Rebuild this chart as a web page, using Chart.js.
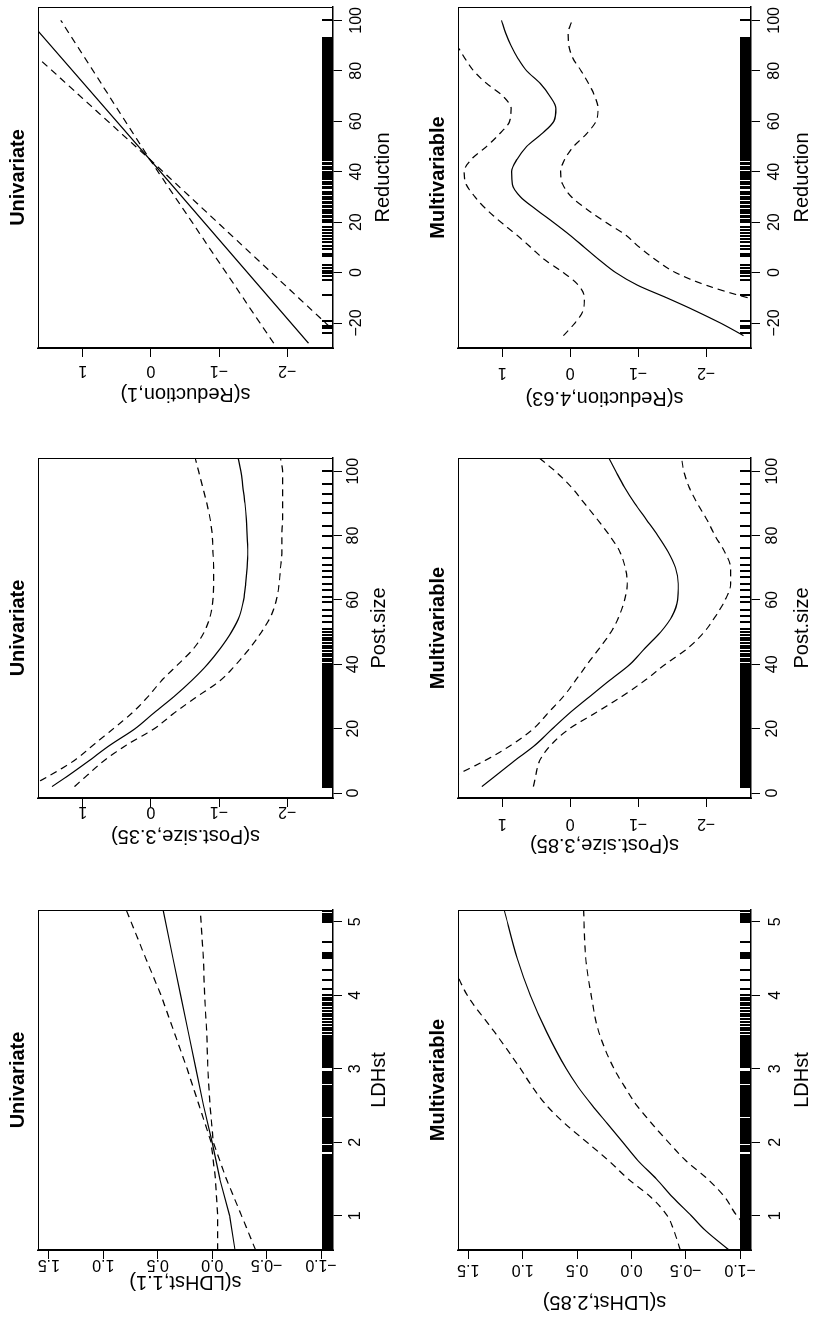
<!DOCTYPE html>
<html>
<head>
<meta charset="utf-8">
<title>Smooth terms</title>
<script src="https://cdn.jsdelivr.net/npm/chart.js@4.4.1/dist/chart.umd.min.js"></script>
<style>
  html, body { margin: 0; padding: 0; background: #fff; overflow: hidden; }
  /* the figure is built upright (1319 x 813) and turned a quarter turn left */
  #page { position: absolute; left: 0; top: 0; width: 1319px; height: 813px;
          transform-origin: 0 0; transform: translateY(1319px) rotate(-90deg); }
  #page canvas { position: absolute; }
</style>
</head>
<body>
<div id="page"></div>
<script>
// ---- data ----

// LDHst
const ldhX = [0.53, 1.0, 1.5, 2.0, 2.5, 3.0, 3.5, 4.0, 4.5, 5.16];
const ldhFitU = [-0.21, -0.16, -0.07, 0.00, 0.08, 0.15, 0.22, 0.29, 0.36, 0.45];
const ldhUpU = [-0.05, -0.05, -0.03, 0.01, 0.12, 0.23, 0.35, 0.47, 0.61, 0.79];
const ldhLoU = [-0.40, -0.27, -0.13, -0.01, 0.02, 0.04, 0.05, 0.07, 0.08, 0.11];

const ldhXM = [0.53, 0.8, 1.0, 1.25, 1.5, 1.75, 2.0, 2.25, 2.5, 2.75, 3.0, 3.5, 4.0, 4.5, 5.16];
const ldhFitM = [-0.90, -0.68, -0.55, -0.38, -0.23, -0.06, 0.08, 0.22, 0.36, 0.49, 0.60, 0.78, 0.93, 1.05, 1.17];
const ldhUpM = [-0.45, -0.39, -0.33, -0.18, 0.03, 0.21, 0.41, 0.61, 0.78, 0.91, 1.02, 1.26, 1.51, 1.67, 1.92];
const ldhLoM = [-1.40, -1.10, -0.97, -0.86, -0.70, -0.50, -0.34, -0.19, -0.05, 0.06, 0.16, 0.30, 0.37, 0.42, 0.44];

// Post.size
const postX = [2, 5, 10, 15, 20, 25, 30, 35, 40, 45, 50, 55, 60, 65, 70, 75, 80, 85, 90, 95, 100, 104];
const postFitU = [1.45, 1.24, 0.91, 0.59, 0.23, -0.05, -0.34, -0.60, -0.83, -1.02, -1.18, -1.30, -1.36, -1.39, -1.41, -1.42, -1.41, -1.40, -1.38, -1.35, -1.32, -1.28];
const postUpU = [1.78, 1.52, 1.13, 0.84, 0.55, 0.27, 0.04, -0.16, -0.40, -0.63, -0.78, -0.87, -0.91, -0.92, -0.92, -0.91, -0.90, -0.87, -0.82, -0.76, -0.70, -0.65];
const postLoU = [1.12, 0.96, 0.69, 0.35, -0.05, -0.35, -0.68, -1.02, -1.25, -1.45, -1.62, -1.76, -1.84, -1.88, -1.90, -1.92, -1.92, -1.93, -1.93, -1.93, -1.93, -1.90];
const postFitM = [1.30, 1.12, 0.82, 0.51, 0.26, 0.00, -0.29, -0.58, -0.88, -1.10, -1.33, -1.50, -1.58, -1.59, -1.55, -1.44, -1.29, -1.12, -0.95, -0.80, -0.67, -0.57];
const postUpM = [2.05, 1.74, 1.26, 0.86, 0.54, 0.32, 0.10, -0.08, -0.25, -0.43, -0.60, -0.72, -0.80, -0.84, -0.81, -0.73, -0.58, -0.40, -0.21, -0.02, 0.22, 0.45];
const postLoM = [0.54, 0.51, 0.45, 0.28, 0.01, -0.38, -0.76, -1.10, -1.40, -1.73, -1.97, -2.14, -2.28, -2.36, -2.36, -2.27, -2.13, -2.01, -1.87, -1.75, -1.67, -1.64];

// Reduction
const redXU = [-28, 45, 100];
const redFitU = [-2.31, 0.02, 1.79];
const redUpU = [-1.80, 0.02, 2.26];
const redLoU = [-2.88, 0.02, 1.32];

const redX = [-25, -20, -15, -10, -5, 0, 5, 10, 15, 20, 25, 30, 35, 40, 45, 50, 55, 60, 65, 70, 75, 80, 85, 90, 95, 100];
const redFitM = [-2.55, -2.21, -1.83, -1.42, -0.99, -0.67, -0.43, -0.21, 0.01, 0.25, 0.50, 0.73, 0.85, 0.86, 0.78, 0.64, 0.42, 0.24, 0.21, 0.30, 0.44, 0.64, 0.77, 0.87, 0.95, 1.01];
const redUpM = [0.10, -0.07, -0.19, -0.21, -0.12, 0.10, 0.37, 0.58, 0.79, 1.02, 1.23, 1.40, 1.53, 1.56, 1.45, 1.23, 1.04, 0.89, 0.87, 0.99, 1.23, 1.42, 1.55, 1.67, 1.85, 2.00];
const redLoM = [-5.20, -4.35, -3.45, -2.62, -2.00, -1.55, -1.26, -1.02, -0.81, -0.52, -0.25, -0.02, 0.11, 0.14, 0.08, -0.05, -0.24, -0.38, -0.41, -0.36, -0.27, -0.16, -0.04, 0.02, 0.03, -0.03];

// rug (observed covariate values)
const ldhRug = [0.55,0.57,0.59,0.61,0.63,0.65,0.67,0.69,0.71,0.73,0.75,0.77,0.79,0.81,0.83,0.85,0.87,0.89,0.91,0.93,0.95,0.97,0.99,1.01,1.03,1.05,1.07,1.09,1.11,1.13,1.15,1.17,1.19,1.21,1.23,1.25,1.27,1.29,1.31,1.33,1.35,1.37,1.39,1.41,1.43,1.45,1.47,1.49,1.51,1.53,1.55,1.57,1.59,1.61,1.63,1.65,1.67,1.69,1.71,1.73,1.75,1.77,1.79,1.81,1.83,1.88,1.90,1.92,1.95,1.99,2.02,2.04,2.06,2.08,2.10,2.12,2.14,2.16,2.18,2.20,2.22,2.24,2.26,2.28,2.30,2.32,2.35,2.37,2.39,2.41,2.44,2.46,2.48,2.50,2.53,2.55,2.57,2.59,2.62,2.64,2.66,2.68,2.71,2.73,2.75,2.77,2.80,2.82,2.84,2.86,2.88,2.90,2.92,2.94,2.96,3.02,3.04,3.06,3.08,3.10,3.12,3.14,3.16,3.18,3.20,3.22,3.24,3.26,3.28,3.30,3.32,3.34,3.36,3.38,3.40,3.42,3.44,3.48,3.52,3.56,3.60,3.63,3.67,3.71,3.74,3.78,3.82,3.86,3.90,3.93,3.96,4.00,4.09,4.20,4.34,4.50,4.52,4.54,4.56,4.58,4.73,4.99,5.02,5.05,5.08,5.11,5.14];
const postRug = [2,2.5,3,3.5,4,4.5,5,5.5,6,6.5,7,7.5,8,8.5,9,9.5,10,10.5,11,11.5,12,12.5,13,13.5,14,14.5,15,15.5,16,16.5,17,17.5,18,18.5,19,19.5,20,20.5,21,21.5,22,22.5,23,23.5,24,24.5,25,25.5,26,26.5,27,27.5,28,28.5,29,29.5,30,30.5,31,31.5,32,32.5,33,33.5,34,34.5,35,35.5,36,36.5,37,37.5,38,38.5,39,39.5,40,41,41.7,42.5,43.2,44,45,45.8,46.5,47.4,48.2,49,50,51,53,55,57,59.5,61,63,65,67,69,71,73,76,80,83,87,90,93,96,100];
const redRug = [-24,-22,-21,-19,-9,-3,-1.5,0,0.5,2,3,6.5,7.5,9.5,10.5,12,13.5,14.5,15.5,17,18,20,21,22,22.5,23.5,24,25,26,26.5,27.5,28,29,30,31,32,33.5,34,35,36,37,38,38.5,39.5,40,41,42,43,43.5,44.5,45,45.5,46,46.5,47,47.5,48,48.5,49,49.5,50,50.5,51,51.5,52,52.5,53,53.5,54,54.5,55,55.5,56,56.5,57,57.5,58,58.5,59,59.5,60,60.5,61,61.5,62,62.5,63,63.5,64,64.5,65,65.5,66,66.5,67,67.5,68,68.5,69,69.5,70,70.5,71,71.5,72,72.5,73,73.5,74,74.5,75,75.5,76,76.5,77,77.5,78,78.5,79,79.5,80,80.5,81,81.5,82,82.5,83,83.5,84,84.5,85,85.5,86,86.5,87,87.5,88,88.5,89,89.5,90,90.5,91,91.5,92,92.5,93,100];

// tick labels
const ldhTicksX = [1, 2, 3, 4, 5];
const ldhTicksY = [-1.0, -0.5, 0.0, 0.5, 1.0, 1.5];
const postTicksX = [0, 20, 40, 60, 80, 100];
const redTicksX = [-20, 0, 20, 40, 60, 80, 100];
const sTicksY = [-2, -1, 0, 1];

// ---- layout ----
const FONT = '"Liberation Sans", Arial, Helvetica, sans-serif';
Chart.defaults.font.family = FONT;
Chart.defaults.color = '#000';

const LEFT = 70, TOP = 38, RIGHT = 6, BOTTOM = 66;
const TL = 9, TICK = 16, TICK_LH = TICK * 1.2, LAB = 20;

// box = plot area [x, y, w, h] in the upright figure; gaps = y tick, y title, x tick, x title
const panels = [
  { title: 'Univariate', xLabel: 'LDHst', yLabel: 's(LDHst,1.1)', x: ldhX, fit: ldhFitU, up: ldhUpU, lo: ldhLoU,
    rug: ldhRug, xTicks: ldhTicksX, yTicks: ldhTicksY, dec: 1, xr: [0.533, 5.159], yr: [-1.11, 1.60], smooth: false,
    box: [69, 38, 340, 295], gaps: [14, 32, 23, 46] },
  { title: 'Multivariable', xLabel: 'LDHst', yLabel: 's(LDHst,2.85)', x: ldhXM, fit: ldhFitM, up: ldhUpM, lo: ldhLoM,
    rug: ldhRug, xTicks: ldhTicksX, yTicks: ldhTicksY, dec: 1, xr: [0.533, 5.159], yr: [-1.10, 1.595], smooth: true,
    box: [69, 458, 340, 293], gaps: [19, 52, 25, 51] },
  { title: 'Univariate', xLabel: 'Post.size', yLabel: 's(Post.size,3.35)', x: postX, fit: postFitU, up: postUpU, lo: postLoU,
    rug: postRug, xTicks: postTicksX, yTicks: sTicksY, dec: 0, xr: [-1.55, 104.1], yr: [-2.67, 1.655], smooth: true,
    box: [521, 38, 340, 295], gaps: [13, 38, 21, 46] },
  { title: 'Multivariable', xLabel: 'Post.size', yLabel: 's(Post.size,3.85)', x: postX, fit: postFitM, up: postUpM, lo: postLoM,
    rug: postRug, xTicks: postTicksX, yTicks: sTicksY, dec: 0, xr: [-1.55, 104.1], yr: [-2.66, 1.65], smooth: true,
    box: [521, 458, 340, 293], gaps: [25, 47, 22, 51] },
  { title: 'Univariate', xLabel: 'Reduction', yLabel: 's(Reduction,1)', x: redXU, fit: redFitU, up: redUpU, lo: redLoU,
    rug: redRug, xTicks: redTicksX, yTicks: sTicksY, dec: 0, xr: [-29.9, 105.3], yr: [-2.67, 1.655], smooth: false,
    box: [971, 38, 341, 295], gaps: [22, 46, 24, 50] },
  { title: 'Multivariable', xLabel: 'Reduction', yLabel: 's(Reduction,4.63)', x: redX, fit: redFitM, up: redUpM, lo: redLoM,
    rug: redRug, xTicks: redTicksX, yTicks: sTicksY, dec: 0, xr: [-29.9, 105.3], yr: [-2.66, 1.65], smooth: true,
    box: [971, 458, 341, 293], gaps: [24, 50, 24, 51] }
];

const page = document.getElementById('page');
const meas = document.createElement('canvas').getContext('2d');

function fmt(v, dec) {
  return (dec ? Number(v).toFixed(dec) : String(v)).replace('-', '\u2212');
}

// box round the plot region
const framePlugin = {
  id: 'frame',
  afterDatasetsDraw(chart) {
    const { ctx, chartArea: a } = chart;
    ctx.save();
    ctx.strokeStyle = '#000';
    ctx.lineWidth = 1;
    ctx.strokeRect(Math.round(a.left) + 0.5, Math.round(a.top) + 0.5,
      Math.round(a.right - a.left) - 1, Math.round(a.bottom - a.top) - 1);
    ctx.restore();
  }
};

// rug ticks along the x axis, inside the plot
function rugPlugin(values) {
  return {
    id: 'rug',
    afterDatasetsDraw(chart) {
      const { ctx, chartArea: a } = chart;
      const xs = chart.scales.x;
      ctx.save();
      ctx.beginPath();
      ctx.rect(a.left, a.top, a.right - a.left, a.bottom - a.top);
      ctx.clip();
      ctx.strokeStyle = '#000';
      ctx.lineWidth = 2;
      ctx.beginPath();
      values.forEach(v => {
        const px = Math.round(xs.getPixelForValue(v));
        ctx.moveTo(px, a.bottom);
        ctx.lineTo(px, a.bottom - 11);
      });
      ctx.stroke();
      ctx.restore();
    }
  };
}

function drawPanel(p) {
  const [x0, y0, w, h] = p.box;
  const [gYTick, gYTitle, gXTick, gXTitle] = p.gaps;
  const cw = LEFT + w + RIGHT, ch = TOP + h + BOTTOM;
  const cv = document.createElement('canvas');
  cv.width = cw; cv.height = ch;
  cv.style.left = (x0 - LEFT) + 'px';
  cv.style.top = (y0 - TOP) + 'px';
  cv.style.width = cw + 'px';
  cv.style.height = ch + 'px';
  page.appendChild(cv);

  meas.font = TICK + 'px ' + FONT;
  const widest = Math.max(...p.yTicks.map(v => meas.measureText(fmt(v, p.dec)).width));

  const line = (ys, dash) => ({
    data: p.x.map((v, i) => ({ x: v, y: ys[i] })),
    borderColor: '#000',
    borderWidth: 1.2,
    borderDash: dash,
    pointRadius: 0,
    fill: false,
    tension: 0,
    cubicInterpolationMode: p.smooth ? 'monotone' : 'default'
  });

  const axisGrid = { drawOnChartArea: false, drawTicks: true, tickLength: TL, color: '#000', lineWidth: 1 };
  const axisBorder = { display: true, color: '#000', width: 1.5 };

  new Chart(cv, {
    type: 'line',
    data: { datasets: [line(p.fit, []), line(p.up, [7, 5]), line(p.lo, [7, 5])] },
    options: {
      responsive: false,
      animation: false,
      devicePixelRatio: 1,
      layout: { autoPadding: false, padding: { left: 0, top: 0, right: RIGHT, bottom: 0 } },
      plugins: {
        legend: { display: false },
        tooltip: { enabled: false },
        title: {
          display: true, text: p.title, fullSize: false, color: '#000',
          font: { size: LAB, weight: 'bold' }, padding: { top: 6, bottom: 8 }
        }
      },
      scales: {
        x: {
          type: 'linear', position: 'bottom', min: p.xr[0], max: p.xr[1],
          afterBuildTicks: s => { s.ticks = p.xTicks.map(v => ({ value: v })); },
          afterFit: s => { s.height = BOTTOM; },
          ticks: {
            autoSkip: false, minRotation: 0, maxRotation: 0, color: '#000',
            padding: gXTick - TL - TICK_LH / 2, font: { size: TICK },
            callback: v => fmt(v, 0)
          },
          grid: axisGrid,
          border: axisBorder,
          title: {
            display: true, text: p.xLabel, color: '#000', font: { size: LAB },
            padding: { top: 0, bottom: BOTTOM - gXTitle - LAB * 0.6 }
          }
        },
        y: {
          type: 'linear', position: 'left', min: p.yr[0], max: p.yr[1],
          afterBuildTicks: s => { s.ticks = p.yTicks.map(v => ({ value: v })); },
          afterFit: s => { s.width = LEFT; },
          ticks: {
            autoSkip: false, minRotation: 90, maxRotation: 90, crossAlign: 'center', color: '#000',
            padding: gYTick - TL - widest / 2, font: { size: TICK },
            callback: v => fmt(v, p.dec)
          },
          grid: axisGrid,
          border: axisBorder,
          title: {
            display: true, text: p.yLabel, color: '#000', font: { size: LAB },
            padding: { top: LEFT - gYTitle - LAB * 0.6, bottom: 0 }
          }
        }
      }
    },
    plugins: [framePlugin, rugPlugin(p.rug)]
  });
}

panels.forEach(drawPanel);
</script>
</body>
</html>
